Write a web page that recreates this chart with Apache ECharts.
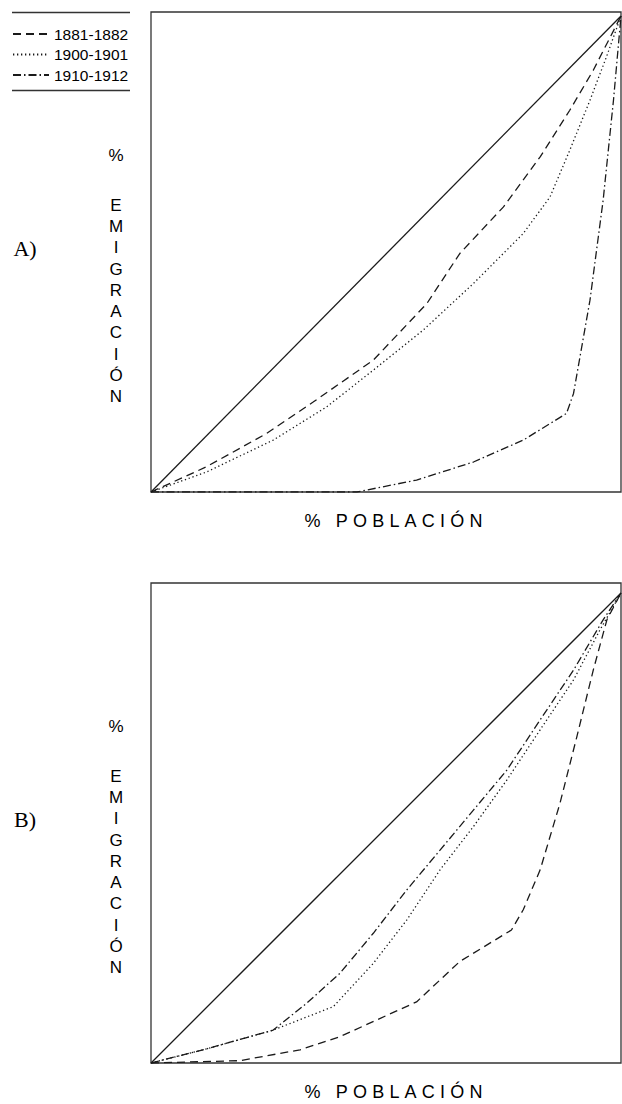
<!DOCTYPE html>
<html><head><meta charset="utf-8">
<script src="https://cdn.jsdelivr.net/npm/echarts/dist/echarts.min.js"></script>
<style>html,body{margin:0;padding:0;background:#fff}#c{width:622px;height:1104px}</style>
</head><body><div id="c"></div>
<script>
// ---- data (x = % población, y = % emigración) ----
const seriesNames = ['1881-1882', '1900-1901', '1910-1912'];
const equalityLine = [[0, 0], [100, 100]];

// Panel A
const a1881 = [[0,0],[11.8,5.3],[24.6,12.3],[34.5,18.9],[47.3,27.7],[58.7,39.6],[65.7,50.1],[75,59.9],[82.8,70.4],[89.1,80.2],[94.1,88.6],[100,100]];
const a1900 = [[0,0],[11.8,4.2],[26,10.9],[37.4,17.9],[47.3,25.6],[57.9,34],[68.6,43.8],[79.2,54.3],[84.9,62],[89.1,71.8],[93.4,82.3],[96.9,91.4],[100,100]];
const a1910 = [[0,0],[20,0],[43.8,0],[56.5,2.5],[68.6,6.3],[79.2,10.9],[88.4,16.5],[89.9,20.7],[93.4,40.3],[96.2,61.3],[98.4,82.3],[100,100]];

// Panel B
const b1881 = [[0,0],[18.9,0.5],[31.7,2.8],[40.2,5.6],[56.5,13],[65.7,21.6],[76.7,28.3],[79.2,32.6],[82.8,41.1],[87,55.2],[90.6,69.4],[94.1,83.6],[97,94.3],[100,100]];
const b1900 = [[0,0],[11.8,3],[26,7],[38.8,12],[47.3,21.2],[54.4,30.4],[61.5,41.1],[68.6,50.3],[75.7,60.2],[82.8,70.9],[89.9,81.5],[95.5,92.1],[100,100]];
const b1910 = [[0,0],[11.8,3],[26,7],[33.1,12.7],[40.2,19.1],[47.3,27.6],[54.4,36.8],[61.5,45.3],[68.6,53.8],[75.7,62.3],[82.8,73],[89.9,83.6],[96.2,94.3],[100,100]];

const panelLabels = ['A)', 'B)'];
const xTitle = '% POBLACIÓN';
const yTitlePct = '%';
const yTitleWord = 'EMIGRACIÓN';

// ---- styling ----
const INK = '#1a1a1a';
const dashes = {
  '1881-1882': [8, 5],
  '1900-1901': [1.3, 2.7],
  '1910-1912': [8, 3, 1.5, 3]
};
function curve(name, data, idx) {
  return {
    type: 'line', name: name, data: data,
    xAxisIndex: idx, yAxisIndex: idx,
    symbol: 'none', silent: true, animation: false,
    lineStyle: { color: INK, width: 1.3, type: dashes[name] }
  };
}
function diag(idx) {
  return {
    type: 'line', name: 'igualdad', data: equalityLine,
    xAxisIndex: idx, yAxisIndex: idx, symbol: 'none', silent: true, animation: false,
    lineStyle: { color: INK, width: 1.3, type: 'solid' }
  };
}
function xAx(idx) {
  return { type: 'value', gridIndex: idx, min: 0, max: 100,
    axisLine: {show: false}, axisTick: {show: false}, axisLabel: {show: false}, splitLine: {show: false} };
}
function yAx(idx, max) {
  return { type: 'value', gridIndex: idx, min: 0, max: max,
    axisLine: {show: false}, axisTick: {show: false}, axisLabel: {show: false}, splitLine: {show: false} };
}
const SANS = 'Liberation Sans, Arial, sans-serif';
const SERIF = 'Liberation Serif, Times New Roman, serif';

function panelText(top, i) {
  return [
    { type: 'text', x: 25, y: top + 236, style: { text: panelLabels[i], font: '22px ' + SERIF, fill: '#000', textAlign: 'center', textVerticalAlign: 'middle' } },
    { type: 'text', x: 116, y: top + 143, style: { text: yTitlePct, font: '17px ' + SANS, fill: '#000', textAlign: 'center', textVerticalAlign: 'middle' } },
    { type: 'text', x: 116, y: top + 182.5, style: { text: yTitleWord.split('').join('\n'), font: '17px ' + SANS, lineHeight: 21.3, fill: '#000', textAlign: 'center', textVerticalAlign: 'top' } },
    { type: 'text', x: 396, y: top + 509, style: { text: xTitle, font: '18px ' + SANS, fill: '#000', textAlign: 'center', textVerticalAlign: 'middle' } }
  ];
}

const chart = echarts.init(document.getElementById('c'), null, { renderer: 'svg' });
chart.setOption({
  animation: false,
  backgroundColor: '#fff',
  grid: [
    { left: 151, top: 12, width: 470, height: 480, show: true, borderColor: '#333', borderWidth: 1.3, backgroundColor: 'transparent' },
    { left: 151, top: 583, width: 470, height: 480, show: true, borderColor: '#333', borderWidth: 1.3, backgroundColor: 'transparent' }
  ],
  xAxis: [xAx(0), xAx(1)],
  yAxis: [yAx(0, 100.84), yAx(1, 102.13)],
  legend: {
    data: seriesNames, orient: 'vertical', left: 12, top: 26, padding: 0,
    itemWidth: 36, itemHeight: 14, itemGap: 4.5, selectedMode: false,
    itemStyle: { opacity: 0 },
    textStyle: { fontFamily: SANS, fontSize: 15.5, color: '#000', lineHeight: 14 }
  },
  series: [
    diag(0),
    curve('1881-1882', a1881, 0), curve('1900-1901', a1900, 0), curve('1910-1912', a1910, 0),
    diag(1),
    curve('1881-1882', b1881, 1), curve('1900-1901', b1900, 1), curve('1910-1912', b1910, 1)
  ],
  graphic: [
    { type: 'line', shape: { x1: 12, y1: 12.5, x2: 130, y2: 12.5 }, style: { stroke: '#333', lineWidth: 1.3 } },
    { type: 'line', shape: { x1: 12, y1: 90.5, x2: 130, y2: 90.5 }, style: { stroke: '#333', lineWidth: 1.3 } }
  ].concat(panelText(12, 0), panelText(583, 1))
});
function spaceTitles() {
  document.querySelectorAll('#c text').forEach(function (t) {
    if (t.textContent === xTitle) { t.style.letterSpacing = '5.2px'; }
  });
}
spaceTitles();
chart.on('finished', spaceTitles);
</script></body></html>
